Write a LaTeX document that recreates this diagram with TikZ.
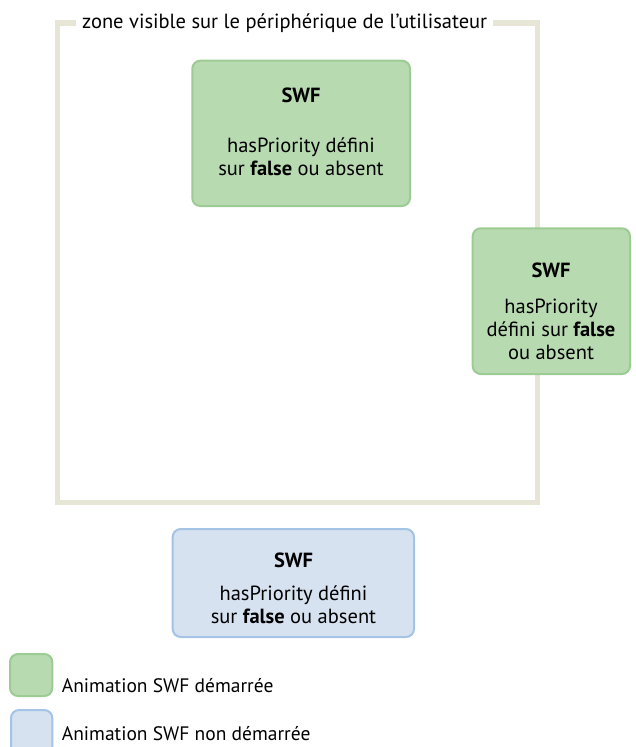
\documentclass[tikz,border=0pt]{standalone}
\usepackage{fontspec}
\setmainfont{PT Sans}
\usetikzlibrary{positioning}
\definecolor{zoneline}{HTML}{E7E5D6}
\definecolor{startfill}{HTML}{B8DAB1}
\definecolor{startdraw}{HTML}{9DCB94}
\definecolor{idlefill}{HTML}{D6E2F0}
\definecolor{idledraw}{HTML}{A5C3E4}

\begin{document}
\begin{tikzpicture}[x=1pt,y=-1pt,
    swfbox/.style={rounded corners=8pt,line width=2pt},
    started/.style={swfbox,fill=startfill,draw=startdraw},
    idle/.style={swfbox,fill=idlefill,draw=idledraw},
    swftext/.style={align=center,inner sep=0pt,font=\fontsize{20.5}{23}\selectfont},
    legtext/.style={anchor=west,inner sep=0pt,font=\fontsize{19.5}{23}\selectfont}]
    \useasboundingbox (0,0) rectangle (635,747);
    % visible zone on the user's device
    \draw[zoneline,line width=5.3pt] (57.8,23) rectangle (537.7,502.7);
    \node[fill=white,inner xsep=6pt,inner ysep=2pt,anchor=west,font=\fontsize{20.5}{23}\selectfont]
        (zone) at (76,23) {zone visible sur le périphérique de l’utilisateur};
    % SWF inside the zone
    \draw[started] (192.3,60.7) rectangle (410,206);
    \node[swftext] (topswf) at (301,95) {\textbf{SWF}};
    \node[swftext] (topprio) at (301,156.5) {hasPriority défini\\sur \textbf{false} ou absent};
    % SWF across the right edge
    \draw[started] (472.7,228.3) rectangle (630,374);
    \node[swftext] (rightswf) at (551,270) {\textbf{SWF}};
    \node[swftext] (rightprio) at (551,329) {hasPriority\\défini sur \textbf{false}\\ou absent};
    % SWF outside the zone
    \draw[idle] (172.7,529) rectangle (414,637);
    \node[swftext] (lowswf) at (293.5,560) {\textbf{SWF}};
    \node[swftext] (lowprio) at (293.5,605) {hasPriority défini\\sur \textbf{false} ou absent};
    % legend
    \draw[started] (10,654) rectangle (52.3,696);
    \draw[idle] (11,710) rectangle (52.3,760);
    \node[legtext] (legstart) at (61.7,686) {Animation SWF démarrée};
    \node[legtext] (legidle) at (61.7,734) {Animation SWF non démarrée};
\end{tikzpicture}
\end{document}
